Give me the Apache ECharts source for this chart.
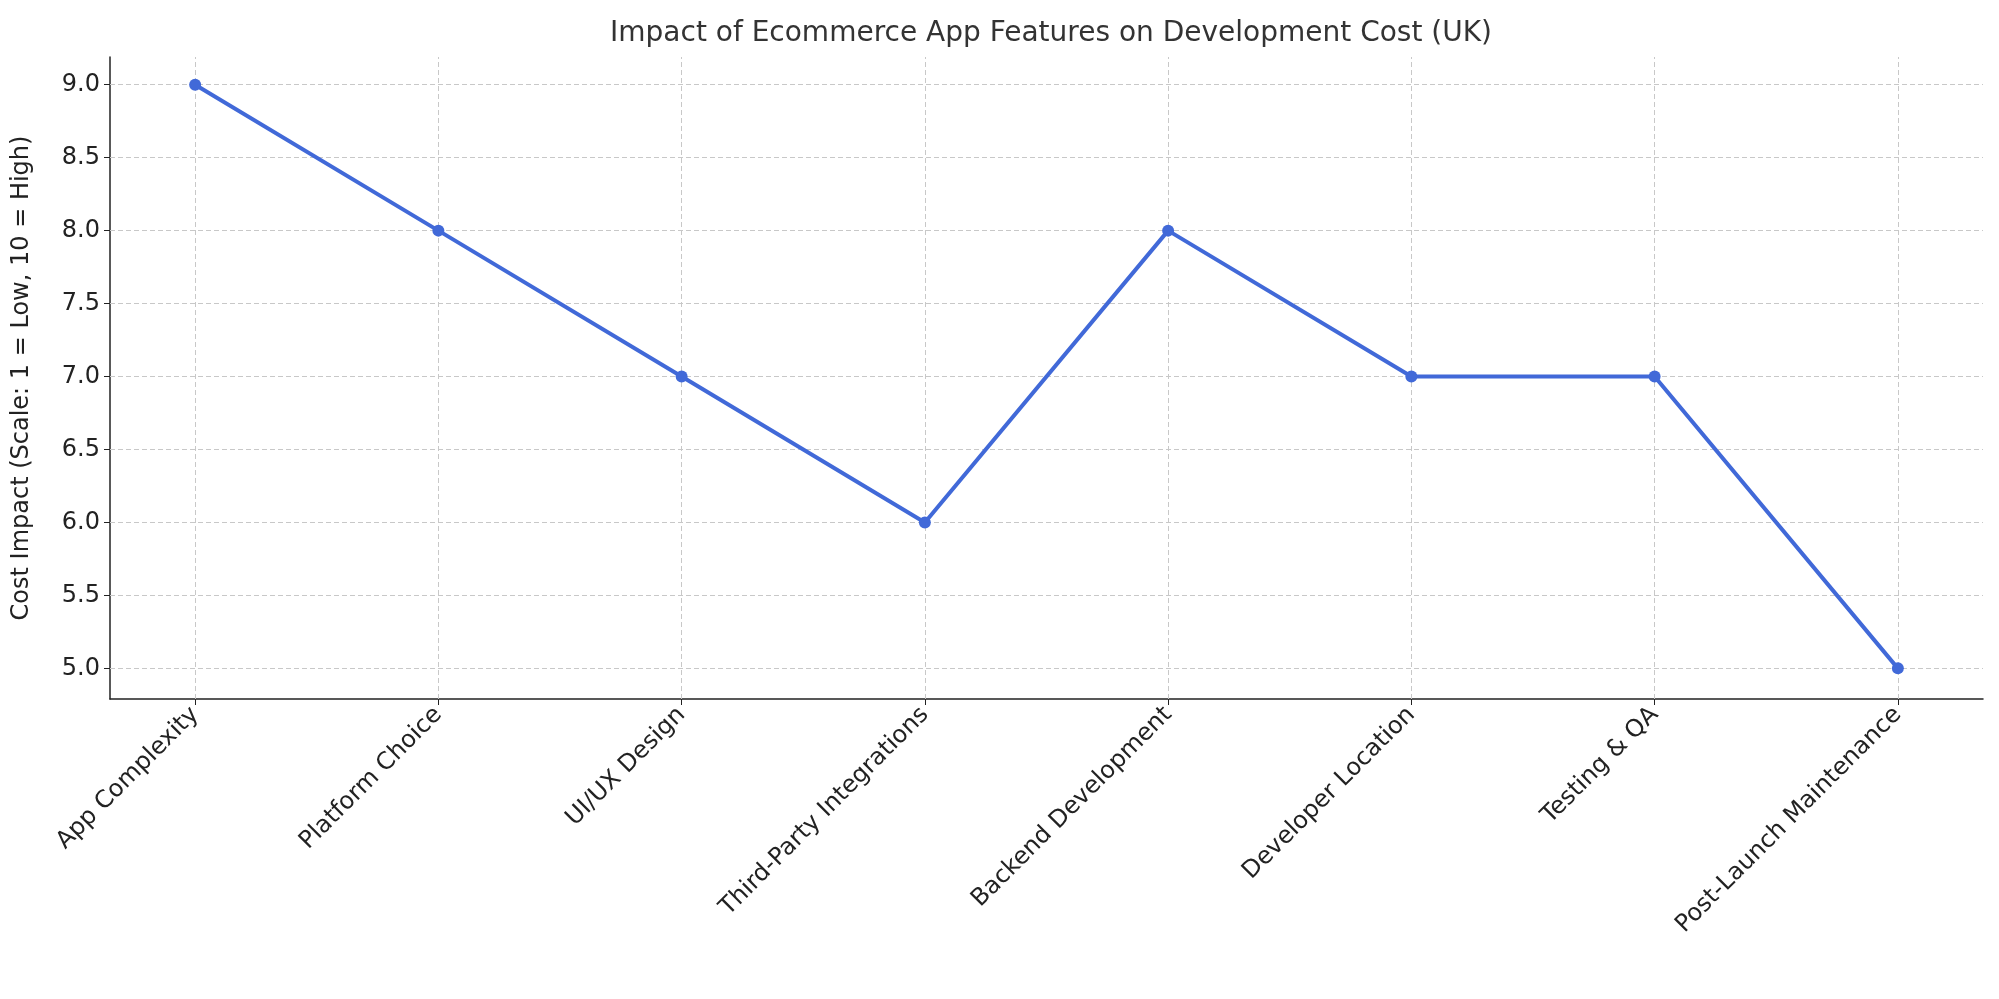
<!DOCTYPE html><html><head><meta charset="utf-8">
<script src="https://cdn.jsdelivr.net/npm/echarts@6/dist/echarts.min.js"></script>
<style>html,body{margin:0;padding:0}#c{width:1999px;height:999px}</style></head><body><div id="c"></div>
<script>
const categories=["App Complexity","Platform Choice","UI/UX Design","Third-Party Integrations","Backend Development","Developer Location","Testing & QA","Post-Launch Maintenance"];
const values=[9,8,7,6,8,7,7,5];
const yTicks=[5.0,5.5,6.0,6.5,7.0,7.5,8.0,8.5,9.0];
const font='DejaVu Sans';
const chart=echarts.init(document.getElementById('c'));
const grid={color:'#c8c8c8',type:[5,3],width:1};
chart.setOption({
 animation:false,
 title:{text:'Impact of Ecommerce App Features on Development Cost (UK)',left:1046,top:15,textAlign:'center',textStyle:{fontFamily:font,fontSize:28,fontWeight:'normal',color:'#333'}},
 grid:{left:110,right:16,top:57,bottom:300},
 xAxis:{type:'value',min:-0.35,max:7.35,
  axisLine:{show:true,onZero:false,lineStyle:{color:'#222',width:1.5}},
  axisTick:{show:true,customValues:categories.map((c,i)=>i),length:6,lineStyle:{color:'#222'}},
  axisLabel:{customValues:categories.map((c,i)=>i),formatter:v=>categories[Math.round(v)]||'',rotate:45,fontFamily:font,fontSize:24,color:'#222',margin:12},
  splitLine:{show:false}},
 yAxis:{type:'value',min:4.79,max:9.19,
  name:'Cost Impact (Scale: 1 = Low, 10 = High)',nameLocation:'middle',nameGap:76,nameTextStyle:{fontFamily:font,fontSize:24,color:'#222'},
  axisLine:{show:true,onZero:false,lineStyle:{color:'#222',width:1.5}},
  axisTick:{show:true,customValues:yTicks,length:6,lineStyle:{color:'#222'}},
  axisLabel:{customValues:yTicks,formatter:v=>v.toFixed(1),fontFamily:font,fontSize:24,color:'#222',margin:10},
  splitLine:{show:false}},
 series:[
  {type:'line',data:[],z:1,silent:true,markLine:{silent:true,symbol:'none',label:{show:false},lineStyle:grid,
    data:yTicks.map(v=>({yAxis:v})).concat(categories.map((c,i)=>({xAxis:i})))}},
  {type:'line',z:5,data:values.map((v,i)=>[i,v]),symbol:'circle',symbolSize:12,
   lineStyle:{color:'#4169d8',width:4},itemStyle:{color:'#4169d8'}}
 ]
});
</script></body></html>
